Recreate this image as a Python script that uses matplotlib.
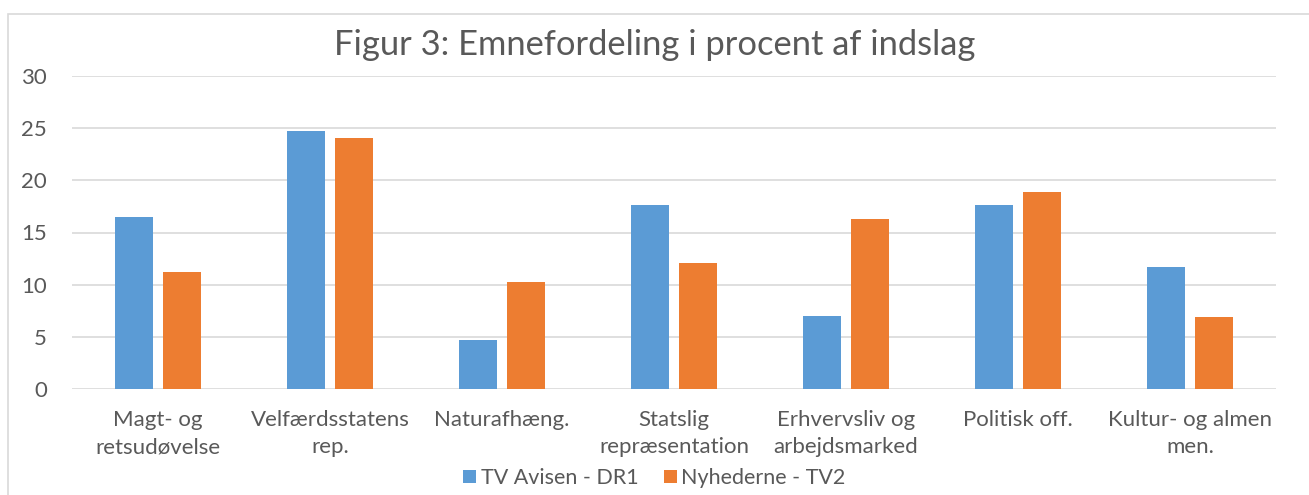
import matplotlib
matplotlib.use("Agg")
import matplotlib.pyplot as plt
import numpy as np
from matplotlib.patches import Rectangle

categories = ["Magt- og\nretsudøvelse", "Velfærdsstatens\nrep.", "Naturafhæng.",
              "Statslig\nrepræsentation", "Erhvervsliv og\narbejdsmarked",
              "Politisk off.", "Kultur- og almen\nmen."]
dr1 = [16.5, 24.7, 4.7, 17.6, 7.0, 17.6, 11.7]
tv2 = [11.2, 24.1, 10.3, 12.1, 16.3, 18.9, 6.9]
series_names = ["TV Avisen - DR1", "Nyhederne - TV2"]
title = "Figur 3: Emnefordeling i procent af indslag"

plt.rcParams['font.family'] = ['Lato', 'DejaVu Sans']
W, H = 1309, 495
fig = plt.figure(figsize=(W/100, H/100), dpi=100)
ax = fig.add_axes([72/W, 1-389/H, (1276-72)/W, (389-76)/H])

x = np.arange(len(categories))
bw = 0.22
gap = 0.06
blue = "#5b9bd5"
orange = "#ed7d31"
ax.bar(x - (bw+gap)/2, dr1, bw, color=blue, label=series_names[0], zorder=3)
ax.bar(x + (bw+gap)/2, tv2, bw, color=orange, label=series_names[1], zorder=3)

ax.set_xlim(-0.5, len(categories)-0.5)
ax.set_ylim(0, 30)
ax.set_yticks(range(0, 31, 5))
ax.grid(axis='y', color='#d9d9d9', linewidth=1.2, zorder=0)
for s in ax.spines.values():
    s.set_visible(False)
ax.tick_params(axis='both', length=0, colors='#595959', labelsize=16)
ax.tick_params(axis='y', pad=18)
ax.tick_params(axis='x', pad=15)
ax.set_xticks(x)
ax.set_xticklabels(categories, linespacing=1.45)

fig.text(0.5, 1-45/H, title, ha='center', va='center', fontsize=24.8, color='#595959')

leg = fig.legend(loc='center', bbox_to_anchor=(0.5, 1-478/H), ncol=2, frameon=False,
                 fontsize=15.5, handlelength=0.6, handleheight=0.6, handletextpad=0.2,
                 columnspacing=1.2, labelcolor='#595959')

fig.patches.append(Rectangle((8/W, -0.1), 1.2, 1.1 - 14/H, transform=fig.transFigure,
                             fill=False, edgecolor='#d9d9d9', linewidth=1.2))

fig.savefig("out.png", dpi=100)
